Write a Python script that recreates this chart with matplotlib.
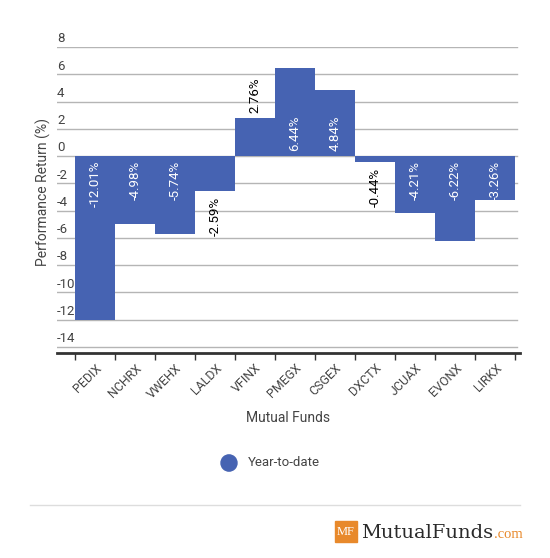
import matplotlib
matplotlib.use("Agg")
import matplotlib.pyplot as plt
from matplotlib.patches import Rectangle, Circle
from matplotlib.lines import Line2D

funds = ["PEDIX", "NCHRX", "VWEHX", "LALDX", "VFINX", "PMEGX", "CSGEX", "DXCTX", "JCUAX", "EVONX", "LIRKX"]
ytd = [-12.01, -4.98, -5.74, -2.59, 2.76, 6.44, 4.84, -0.44, -4.21, -6.22, -3.26]
yticks = [8, 6, 4, 2, 0, -2, -4, -6, -8, -10, -12, -14]

plt.rcParams['font.family'] = ['Roboto', 'DejaVu Sans']
W, H = 550, 558
fig = plt.figure(figsize=(W / 100, H / 100), dpi=100)
fig.patch.set_facecolor('white')

def fx(px):
    return px / W

def fy(py):
    return 1 - py / H

ax_l, ax_r, ax_t, ax_b = 57, 520, 47, 353
ax = fig.add_axes([fx(ax_l), fy(ax_b), fx(ax_r - ax_l), (ax_b - ax_t) / H])
ax.set_ylim(-14.45, 8)
ax.set_xlim(-0.95, 10.625)

bar_color = '#4663B2'
x = list(range(len(funds)))
ax.bar(x, ytd, width=1.0, color=bar_color, zorder=3, linewidth=0)

for v in yticks:
    ax.axhline(v, color='#b5b5b5', lw=1, zorder=1, xmax=(517 - ax_l) / (ax_r - ax_l))
    ax.text(0.0, v + 0.12, f"{v}", transform=ax.get_yaxis_transform(), ha='left', va='bottom',
            fontsize=9.5, color='#444444')

for s in ['top', 'right', 'left']:
    ax.spines[s].set_visible(False)
ax.spines['bottom'].set_color('#333333')
ax.spines['bottom'].set_linewidth(2)
ax.set_yticks([])

ax.set_xticks(x)
ax.set_xticklabels(funds, rotation=45, ha='right', rotation_mode='anchor', fontsize=9, color='#444444')
ax.tick_params(axis='x', which='major', length=0, pad=6)
ax.set_xticks([i - 0.5 for i in range(len(funds) + 1)], minor=True)
ax.tick_params(axis='x', which='minor', length=5, width=1, color='#333333')

# value labels
for i, v in enumerate(ytd):
    label = f"{v:.2f}%"
    if abs(v) > 3.0:
        if v < 0:
            ax.text(i, -0.35, label, rotation=90, ha='center', va='top', color='white', fontsize=9.5, zorder=4)
        else:
            ax.text(i, 0.35, label, rotation=90, ha='center', va='bottom', color='white', fontsize=9.5, zorder=4)
    else:
        if v < 0:
            ax.text(i, v - 0.4, label, rotation=90, ha='center', va='top', color='black', fontsize=9.5, zorder=4)
        else:
            ax.text(i, v + 0.4, label, rotation=90, ha='center', va='bottom', color='black', fontsize=9.5, zorder=4)

fig.text(fx(43), fy(192), "Performance Return (%)", rotation=90, ha='center', va='center',
         fontsize=10, color='#444444')
fig.text(fx(288), fy(418), "Mutual Funds", ha='center', va='center', fontsize=10, color='#444444')

# legend
fig.add_artist(Circle((fx(229), fy(463)), radius=8 / W, transform=fig.transFigure, color=bar_color))
fig.text(fx(248), fy(463), "Year-to-date", ha='left', va='center', fontsize=9.5, color='#444444')

# separator
fig.add_artist(Line2D([fx(30), fx(520)], [fy(505), fy(505)], color='#dddddd', lw=1))

# logo
serif = ['DejaVu Serif', 'Liberation Serif']
fig.add_artist(Rectangle((fx(335), fy(542)), fx(22), (542 - 521) / H, transform=fig.transFigure,
                         color='#E8892B'))
fig.text(fx(346), fy(532), "MF", ha='center', va='center', fontsize=9, color='white',
         family=['Liberation Serif', 'DejaVu Serif'])
t_main = fig.text(fx(361), fy(538), "MutualFunds", ha='left', va='baseline', fontsize=14,
                  color='#2a2a2a', family=serif)
fig.canvas.draw()
bb = t_main.get_window_extent()
fig.text(bb.x1 / W + 1 / W, fy(538), ".com", ha='left', va='baseline', fontsize=10.5, color='#E8892B',
         family=['Liberation Serif', 'DejaVu Serif'])

fig.savefig("out.png", dpi=100)
